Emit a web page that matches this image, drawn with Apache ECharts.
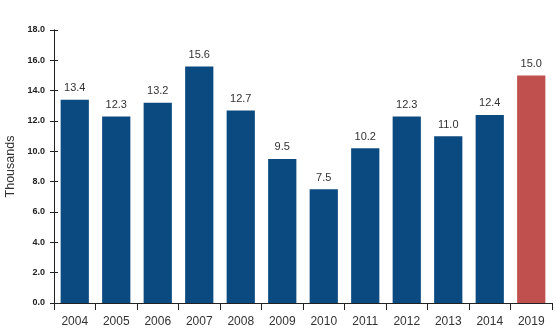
<!DOCTYPE html>
<html><head><meta charset="utf-8">
<script src="https://cdn.jsdelivr.net/npm/echarts@6/dist/echarts.min.js"></script>
<style>html,body{margin:0;padding:0;background:#fff}#c{width:556px;height:331px}</style>
</head><body><div id="c"></div>
<script>
const categories = ['2004','2005','2006','2007','2008','2009','2010','2011','2012','2013','2014','2019'];
const values = [13.4, 12.3, 13.2, 15.6, 12.7, 9.5, 7.5, 10.2, 12.3, 11.0, 12.4, 15.0];
const highlightCategory = '2019';
const yAxisName = 'Thousands';

const blue = '#0b4a80', red = '#c0504d';
const chart = echarts.init(document.getElementById('c'));
const font = 'Liberation Sans, Arial, sans-serif';
chart.setOption({
  animation: false,
  grid: {left: 54, right: 4, top: 30, bottom: 28, containLabel: false, outerBoundsMode: 'none'},
  xAxis: {
    type: 'category', data: categories,
    axisLine: {lineStyle: {color: '#222', width: 1}},
    axisTick: {show: true, length: 7, lineStyle: {color: '#222'}},
    axisLabel: {color: '#333', fontSize: 12, fontFamily: font, margin: 13}
  },
  yAxis: [{
    type: 'value', min: 0, max: 18, interval: 2,
    name: yAxisName, nameLocation: 'middle', nameGap: 33,
    nameTextStyle: {color: '#333', fontSize: 12.5, fontFamily: font},
    splitLine: {show: false},
    axisLine: {show: true, lineStyle: {color: '#222'}},
    axisTick: {show: true, length: 4, lineStyle: {color: '#222'}},
    axisLabel: {color: '#222', fontSize: 9, fontWeight: 'bold', fontFamily: font, margin: 9,
      formatter: v => v.toFixed(1)}
  }, {
    type: 'value', min: 0, max: 18, interval: 2, position: 'left',
    splitLine: {show: false},
    axisLine: {show: true, lineStyle: {color: '#222'}},
    axisTick: {show: true, inside: true, length: 4, lineStyle: {color: '#222'}},
    axisLabel: {show: false}
  }],
  series: [{
    type: 'bar', barWidth: '68%',
    data: values.map((v, i) => ({value: v, itemStyle: {color: categories[i] === highlightCategory ? red : blue}})),
    label: {show: true, position: 'top', distance: 6, color: '#333', fontSize: 11, fontFamily: font,
      formatter: p => p.value.toFixed(1)}
  }]
});
</script></body></html>
